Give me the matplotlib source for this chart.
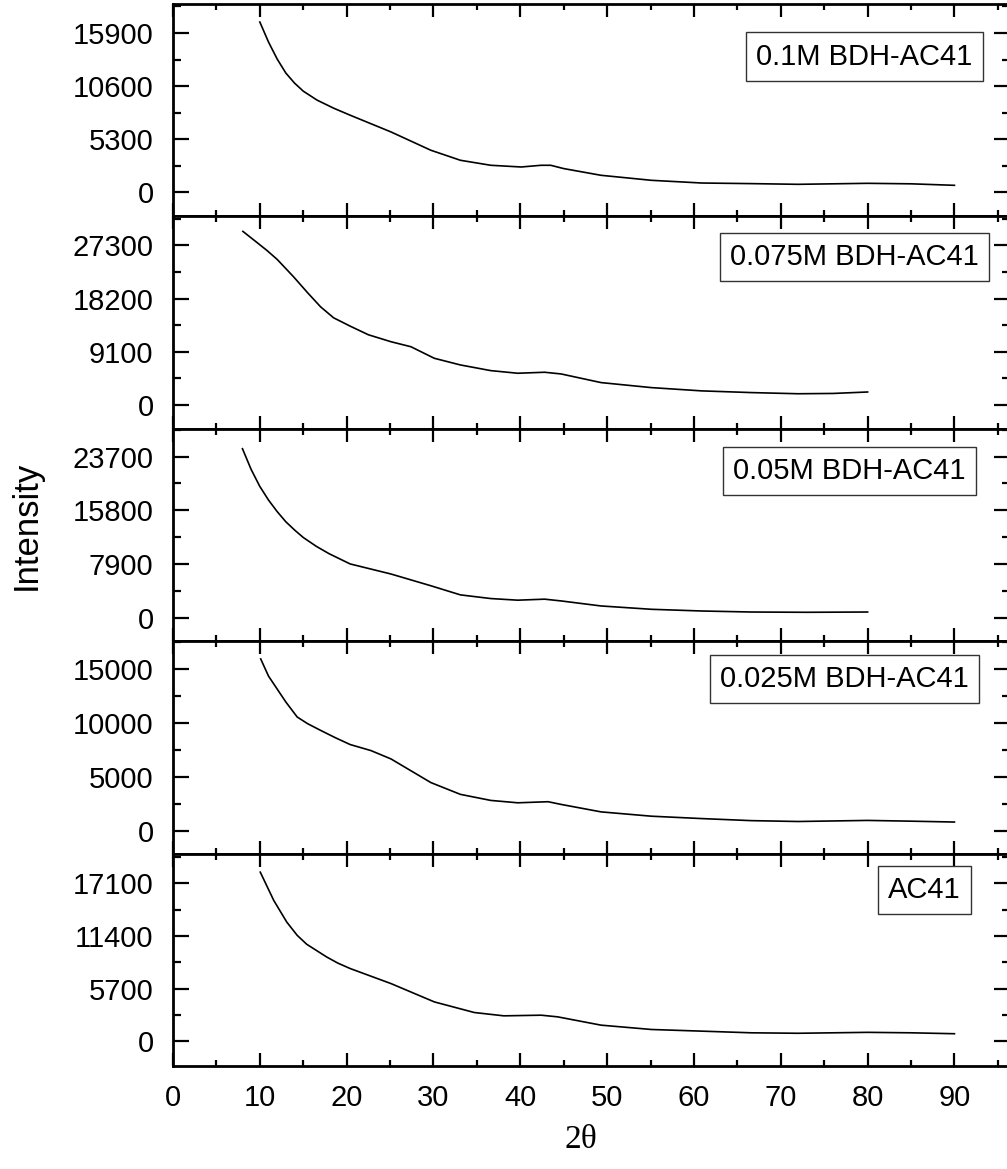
import matplotlib
matplotlib.use("Agg")
import matplotlib.pyplot as plt
import matplotlib.gridspec as gridspec
from matplotlib.ticker import AutoMinorLocator, MultipleLocator

plt.rcParams['font.family'] = ['Liberation Sans', 'DejaVu Sans']

# --- data (2theta in degrees, intensity in counts) ---
tt_01M = [10.0, 11.0, 12.0, 13.0, 14.0, 15.0, 16.6, 18.5, 20.4, 25.1, 29.7, 33.1, 36.6,
          40.1, 42.4, 43.5, 45.0, 49.3, 55.1, 60.9, 66.6, 72, 80, 85, 90]
int_01M = [17000, 15000, 13300, 11900, 10900, 10100, 9200, 8400, 7700, 6030, 4200, 3200, 2700,
           2530, 2700, 2700, 2370, 1700, 1200, 930, 870, 800, 900, 850, 700]

tt_0075M = [8.05, 9.5, 10.8, 12.0, 13.9, 15.5, 17.0, 18.5, 20.4, 22.5, 25.1, 27.4, 30.1,
            33.1, 36.6, 39.7, 42.8, 44.7, 49.3, 55.1, 60.9, 66.6, 72, 76, 80]
int_0075M = [29700, 28000, 26460, 24900, 21900, 19200, 16780, 14900, 13480, 12000, 10810, 9950, 7970,
             6830, 5860, 5410, 5580, 5290, 3810, 2950, 2390, 2100, 1900, 1950, 2200]

tt_005M = [8.0, 9.0, 10.0, 11.0, 12.0, 13.0, 14.0, 15.0, 16.5, 18.0, 20.4, 25.1, 29.7,
           33.1, 36.6, 39.7, 42.8, 44.7, 49.3, 55.1, 60.9, 66.6, 73, 80]
int_005M = [24850, 21800, 19300, 17300, 15600, 14100, 12900, 11800, 10500, 9400, 7910, 6430, 4700,
            3360, 2820, 2580, 2730, 2470, 1730, 1240, 990, 840, 800, 840]

tt_0025M = [10.1, 11.0, 12.0, 13.0, 14.3, 15.5, 17.0, 18.7, 20.4, 22.8, 25.1, 29.7, 33.1,
            36.6, 39.7, 43.2, 44.7, 49.3, 55.1, 60.9, 66.6, 72, 80, 85, 90]
int_0025M = [15890, 14300, 13100, 11900, 10520, 9900, 9280, 8600, 7970, 7410, 6640, 4450, 3360,
             2800, 2580, 2680, 2430, 1740, 1340, 1120, 930, 850, 950, 880, 800]

tt_ac41 = [10.05, 11.6, 13.1, 14.3, 15.4, 17.7, 19.0, 20.4, 25.1, 30.1, 34.7, 38.1, 42.4,
           44.3, 49.3, 55.1, 60.9, 66.6, 72, 80, 85, 90]
int_ac41 = [18320, 15260, 12910, 11470, 10500, 9120, 8450, 7870, 6240, 4250, 3100, 2740, 2810,
            2630, 1730, 1260, 1080, 900, 850, 950, 900, 800]

labels = ["0.1M BDH-AC41", "0.075M BDH-AC41", "0.05M BDH-AC41", "0.025M BDH-AC41", "AC41"]
tick_steps = [5300, 9100, 7900, 5000, 5700]

# --- layout / style ---
ylims = [(-2400, 18800), (-4100, 32270), (-3450, 27780), (-2120, 17530), (-2700, 20330)]
box_pos = [(0.955, 0.752), (0.963, 0.808), (0.947, 0.80), (0.951, 0.821), (0.941, 0.83)]

series = [(tt_01M, int_01M), (tt_0075M, int_0075M), (tt_005M, int_005M),
          (tt_0025M, int_0025M), (tt_ac41, int_ac41)]

fig = plt.figure(figsize=(10.07, 11.69), dpi=100)
gs = gridspec.GridSpec(5, 1, left=0.1718, right=1.003, top=0.9966, bottom=0.0881, hspace=0)

axes = []
for i, (x, y) in enumerate(series):
    ax = fig.add_subplot(gs[i])
    axes.append(ax)
    ax.plot(x, y, color='black', lw=1.2)
    ax.set_xlim(0, 96.4)
    ax.set_ylim(*ylims[i])
    ax.yaxis.set_major_locator(MultipleLocator(tick_steps[i]))
    ax.yaxis.set_minor_locator(AutoMinorLocator(2))
    ax.xaxis.set_major_locator(MultipleLocator(10))
    ax.xaxis.set_minor_locator(MultipleLocator(5))
    ax.tick_params(which='both', direction='in', top=True, right=True, width=1.6,
                   labelsize=21)
    ax.tick_params(axis='y', which='major', length=11.5, pad=14)
    ax.tick_params(axis='y', which='minor', length=6)
    ax.tick_params(axis='x', which='major', length=9.5, pad=13)
    ax.tick_params(axis='x', which='minor', length=4.5)
    for sp in ax.spines.values():
        sp.set_linewidth(2)
    if i < 4:
        ax.tick_params(axis='x', labelbottom=False)
    bx, by = box_pos[i]
    ax.text(bx, by, labels[i], transform=ax.transAxes, ha='right', va='center',
            fontsize=21,
            bbox=dict(boxstyle='square,pad=0.35', fc='white', ec='#333333', lw=1))

fig.text(0.026, 0.551, "Intensity", rotation=90, va='center', ha='center', fontsize=25)
fig.text(0.577, 0.025, "2\u03b8", ha='center', va='center', fontsize=24,
         family=['Liberation Serif', 'DejaVu Serif'])

fig.savefig("out.png", dpi=100)
